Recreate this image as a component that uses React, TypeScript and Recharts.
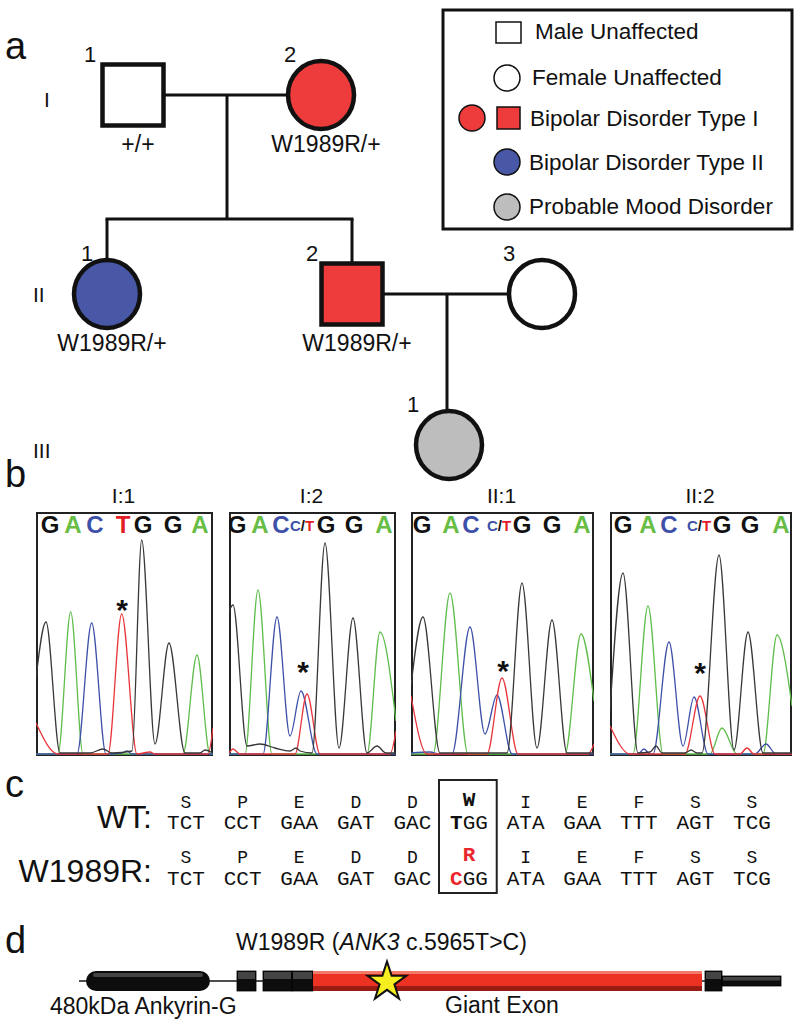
import React from 'react';
import {
  ComposedChart,
  Line,
  Scatter,
  XAxis,
  YAxis,
  ReferenceLine,
  ReferenceArea,
  Symbols,
} from 'recharts';

const SANS = '"Liberation Sans", Arial, Helvetica, sans-serif';
const MONO = '"Liberation Mono", "Courier New", Courier, monospace';

// ---------- a: pedigree ----------
const GENERATIONS = ['I', 'II', 'III'];
const PEOPLE = [
  { id: 'I:1', gen: 1, num: 1, pos: 133, sex: 'M', status: 'unaffected', genotype: '+/+' },
  { id: 'I:2', gen: 1, num: 2, pos: 321, sex: 'F', status: 'bp1', genotype: 'W1989R/+' },
  { id: 'II:1', gen: 2, num: 1, pos: 107, sex: 'F', status: 'bp2', genotype: 'W1989R/+' },
  { id: 'II:2', gen: 2, num: 2, pos: 352, sex: 'M', status: 'bp1', genotype: 'W1989R/+' },
  { id: 'II:3', gen: 2, num: 3, pos: 542, sex: 'F', status: 'unaffected', genotype: '' },
  { id: 'III:1', gen: 3, num: 1, pos: 449, sex: 'F', status: 'mood', genotype: '' },
];
const UNIONS = [
  { partners: ['I:1', 'I:2'], children: ['II:1', 'II:2'] },
  { partners: ['II:2', 'II:3'], children: ['III:1'] },
];
const LEGEND_ITEMS = [
  'Male Unaffected',
  'Female Unaffected',
  'Bipolar Disorder Type I',
  'Bipolar Disorder Type II',
  'Probable Mood Disorder',
];

// ---------- b: chromatograms ----------
const SAMPLES = ['I:1', 'I:2', 'II:1', 'II:2'];
const CALLS = [
  ['G', 'A', 'C', 'T', 'G', 'G', 'A'],
  ['G', 'A', 'C', 'C/T', 'G', 'G', 'A'],
  ['G', 'A', 'C', 'C/T', 'G', 'G', 'A'],
  ['G', 'A', 'C', 'C/T', 'G', 'G', 'A'],
];
const CALL_POS = [
  [14, 37, 59, 87, 107, 137, 164],
  [8, 31, 52, 73, 97, 125, 155],
  [11, 40, 60, 88, 111, 141, 171],
  [13, 38, 59, 89, 112, 140, 171],
];
// site of the variant (scan position, signal height)
const VARIANT_SITE = [
  [86, 153],
  [74, 91],
  [92, 92],
  [90, 90],
];
// traces: [scan position, signal]
const TRACE_G = [
  [[0, 78], [10, 134], [24, 3], [54, 3], [67, 7], [76, 3], [96, 5], [105.7, 216], [119, 12], [133, 113], [149, 3], [164, 3], [169, 6], [177, 3]],
  [[0, 145], [4, 151], [18, 10], [31, 12], [46, 8], [61, 5], [67, 8], [71, 5], [83, 3], [96, 213], [110, 8], [124, 138], [138, 3], [148, 10], [157, 3], [167, 3]],
  [[0, 70], [12, 139], [29, 3], [96, 3], [111, 173], [126, 8], [141, 136], [156, 3], [183, 3]],
  [[0, 45], [13, 183], [28, 3], [40, 4], [46, 10], [52, 3], [75, 3], [81, 6], [87, 3], [92, 3], [109, 201], [124, 6], [138, 124], [153, 3], [182, 3]],
];
const TRACE_A = [
  [[0, 2], [22, 2], [34.7, 144], [47, 2], [147, 2], [161, 101], [174, 2], [177, 2]],
  [[0, 2], [16, 2], [29, 166], [43, 2], [138, 2], [151, 124], [167, 35]],
  [[0, 2], [22, 2], [39, 163], [57, 2], [154, 2], [170, 122], [183, 55]],
  [[0, 2], [23, 2], [38, 150], [53, 2], [100, 2], [112, 28], [127, 2], [153, 2], [167, 121], [182, 50]],
];
const TRACE_C = [
  [[0, 2], [41, 2], [55.7, 133], [70, 2], [86, 3], [91, 5], [96, 2], [177, 2]],
  [[0, 2], [34, 2], [48, 139], [61, 20], [72, 65], [88, 2], [167, 2]],
  [[0, 3], [19, 4], [29, 2], [41, 2], [59, 129], [74, 22], [86, 61], [101, 2], [183, 2]],
  [[0, 2], [28, 2], [34, 7], [40, 2], [43, 2], [59, 114], [73, 10], [84, 59], [98, 2], [145, 2], [156, 12], [166, 2], [182, 2]],
];
const TRACE_T = [
  [[0, 33], [22, 2], [72, 2], [85.7, 142], [101, 2], [114, 4], [119, 2], [172, 2], [177, 28]],
  [[0, 3], [4, 7], [11, 2], [66, 2], [78, 62], [91, 2], [161, 2], [167, 25]],
  [[0, 60], [16, 2], [76, 2], [91, 78], [107, 2], [177, 2], [183, 12]],
  [[0, 30], [20, 2], [75, 2], [90, 60], [105, 2], [130, 2], [137, 8], [144, 2], [182, 2]],
];

// ---------- c: sequence ----------
const AA_WT = ['S', 'P', 'E', 'D', 'D', 'W', 'I', 'E', 'F', 'S', 'S'];
const CODON_WT = ['TCT', 'CCT', 'GAA', 'GAT', 'GAC', 'TGG', 'ATA', 'GAA', 'TTT', 'AGT', 'TCG'];
const AA_MUT = ['S', 'P', 'E', 'D', 'D', 'R', 'I', 'E', 'F', 'S', 'S'];
const CODON_MUT = ['TCT', 'CCT', 'GAA', 'GAT', 'GAC', 'CGG', 'ATA', 'GAA', 'TTT', 'AGT', 'TCG'];
const VARIANT_CODON = 5;

// ---------- d: gene ----------
const GENE_START = 79;
const GENE_PARTS = [
  { start: 86, end: 210, kind: 'domain' },
  { start: 237, end: 256, kind: 'exon' },
  { start: 263, end: 292, kind: 'exon' },
  { start: 292, end: 313, kind: 'exon' },
  { start: 313, end: 702, kind: 'giant' },
  { start: 705, end: 722, kind: 'exon' },
  { start: 722, end: 781, kind: 'utr' },
];
const VARIANT_POS = [387];

// ---------- layout / styles ----------
const STATUS_FILL: Record<string, string> = {
  unaffected: '#ffffff',
  bp1: '#ee3b3b',
  bp2: '#4858a6',
  mood: '#bdbdbd',
};
const GEN_Y: Record<number, number> = { 1: 95, 2: 294, 3: 445 };
const ROMAN = [
  { x: 44, y: 107 },
  { x: 33, y: 302 },
  { x: 33, y: 458 },
];
const NUM_DX: Record<string, number> = { 'I:1': -43, 'I:2': -31, 'II:1': -20, 'II:2': -40, 'II:3': -33, 'III:1': -36 };
const SQ = 30.5;
const RX = 33;
const RY = 34;

const BOX_LEFT = [36, 229, 411, 610];
const BOX_W = [177, 167, 183, 182];
const BOX_TOP = 512;
const BOX_H = 244;
const BOX_PAD = 26;
const CALL_H = 223;
const TRACE_COLOR: Record<string, string> = { G: '#383838', A: '#5fbd4c', C: '#3e50a8', T: '#e8353b' };
const CALL_COLOR: Record<string, string> = { G: '#111111', A: '#68bd45', C: '#3d4fa7', T: '#e31d24' };

const SEQ_TOP = 770;
const SEQ_H = 130;
const CODON_X0 = 186;
const CODON_DX = 56.6;
const ROW_Y = { wtAa: 38, wtCodon: 59, mutAa: 93, mutCodon: 115 };

const GENE_TOP = 950;
const GENE_H = 70;
const GENE_Y = 31;

const byId = (id: string) => PEOPLE.find((p) => p.id === id)!;
const extent = (p: any) => (p.sex === 'M' ? SQ : RX);
const topOf = (p: any) => GEN_Y[p.gen] - (p.sex === 'M' ? SQ : RY);

function PersonShape(props: any) {
  const { cx, cy, payload: p } = props;
  const fill = STATUS_FILL[p.status];
  return (
    <g>
      {p.sex === 'M' ? (
        <rect x={cx - SQ} y={cy - SQ} width={SQ * 2} height={SQ * 2} fill={fill} stroke="#111" strokeWidth={4.5} />
      ) : (
        <ellipse cx={cx} cy={cy} rx={RX} ry={RY} fill={fill} stroke="#111" strokeWidth={4.5} />
      )}
      <text x={cx + NUM_DX[p.id]} y={cy - 33} textAnchor="middle" fontSize={22} fontFamily={SANS} fill="#111">
        {p.num}
      </text>
      {p.genotype && (
        <text x={cx + 5} y={cy + 57} textAnchor="middle" fontSize={23} fontFamily={SANS} fill="#111">
          {p.genotype}
        </text>
      )}
    </g>
  );
}

function Pedigree() {
  const lines: any[] = [];
  UNIONS.forEach((u) => {
    const a = byId(u.partners[0]);
    const b = byId(u.partners[1]);
    const y = GEN_Y[a.gen];
    const mx = (a.pos + b.pos) / 2;
    lines.push([{ x: a.pos + extent(a), y }, { x: b.pos - extent(b), y }]);
    const kids = u.children.map(byId);
    if (kids.length > 1) {
      const sibY = GEN_Y[a.gen + 1] - 75;
      lines.push([{ x: mx, y }, { x: mx, y: sibY }]);
      const xs = kids.map((c) => c.pos);
      lines.push([{ x: Math.min(...xs) - 1.5, y: sibY }, { x: Math.max(...xs) + 1.5, y: sibY }]);
      kids.forEach((c) => lines.push([{ x: c.pos, y: sibY }, { x: c.pos, y: topOf(c) }]));
    } else {
      lines.push([{ x: mx, y }, { x: mx, y: topOf(kids[0]) }]);
    }
  });
  const points = PEOPLE.map((p) => ({ ...p, x: p.pos, y: GEN_Y[p.gen] }));
  return (
    <ComposedChart width={800} height={490} margin={{ top: 0, right: 0, bottom: 0, left: 0 }}>
      <XAxis type="number" dataKey="x" domain={[0, 800]} hide />
      <YAxis type="number" dataKey="y" domain={[0, 490]} reversed hide />
      {lines.map((seg, i) => (
        <ReferenceLine key={i} segment={seg} stroke="#111" strokeWidth={3} ifOverflow="visible" />
      ))}
      <Scatter data={points} shape={PersonShape} isAnimationActive={false} />
    </ComposedChart>
  );
}

function CallShape(props: any) {
  const { cx, cy, payload } = props;
  if (payload.base === 'C/T') {
    return (
      <text x={cx} y={cy - 2} textAnchor="middle" fontSize={15} fontWeight="bold" fontFamily={SANS}>
        <tspan fill={CALL_COLOR.C}>C</tspan>
        <tspan fill="#111">/</tspan>
        <tspan fill={CALL_COLOR.T}>T</tspan>
      </text>
    );
  }
  return (
    <text x={cx} y={cy} textAnchor="middle" fontSize={24} fontWeight="bold" fontFamily={SANS} fill={CALL_COLOR[payload.base]}>
      {payload.base}
    </text>
  );
}

function StarShape(props: any) {
  const { cx, cy } = props;
  return (
    <text x={cx} y={cy + 17} textAnchor="middle" fontSize={30} fontWeight="bold" fontFamily={SANS} fill="#111">
      *
    </text>
  );
}

const toPts = (arr: number[][]) => arr.map(([x, h]) => ({ x, h }));

function Chromatogram({ idx }: { idx: number }) {
  const w = BOX_W[idx];
  const traces: Record<string, any[]> = {
    G: toPts(TRACE_G[idx]),
    A: toPts(TRACE_A[idx]),
    C: toPts(TRACE_C[idx]),
    T: toPts(TRACE_T[idx]),
  };
  const calls = CALLS[idx].map((base, i) => ({ x: CALL_POS[idx][i], h: CALL_H, base }));
  const site = [{ x: VARIANT_SITE[idx][0], h: VARIANT_SITE[idx][1] }];
  return (
    <div style={{ position: 'absolute', left: BOX_LEFT[idx], top: BOX_TOP - BOX_PAD, width: w, height: BOX_H + BOX_PAD }}>
      <div
        style={{
          position: 'absolute',
          left: 0,
          top: BOX_PAD,
          width: w,
          height: BOX_H,
          boxSizing: 'border-box',
          border: '2px solid #222',
        }}
      />
      <div style={{ position: 'absolute', left: 0, top: 0 }}>
        <ComposedChart width={w} height={BOX_H + BOX_PAD} margin={{ top: BOX_PAD, right: 0, bottom: 0, left: 0 }}>
          <XAxis type="number" dataKey="x" domain={[0, w]} hide />
          <YAxis type="number" dataKey="h" domain={[0, BOX_H]} hide />
          {['A', 'C', 'T', 'G'].map((b) => (
            <Line
              key={b}
              data={traces[b]}
              dataKey="h"
              type="monotone"
              stroke={TRACE_COLOR[b]}
              strokeWidth={1.3}
              dot={false}
              isAnimationActive={false}
            />
          ))}
          <Scatter data={calls} shape={CallShape} isAnimationActive={false} />
          <Scatter data={site} shape={StarShape} isAnimationActive={false} />
        </ComposedChart>
      </div>
    </div>
  );
}

function AaShape(props: any) {
  const { cx, cy, payload } = props;
  if (payload.hl) {
    return (
      <text x={cx} y={cy - 2} textAnchor="middle" fontSize={21} fontWeight="bold" fontFamily={MONO} fill={payload.mut ? '#e8262c' : '#111'}>
        {payload.t}
      </text>
    );
  }
  return (
    <text x={cx} y={cy} textAnchor="middle" fontSize={18} fontFamily={MONO} fill="#111">
      {payload.t}
    </text>
  );
}

function CodonShape(props: any) {
  const { cx, cy, payload } = props;
  const t: string = payload.t;
  return (
    <text x={cx} y={cy} textAnchor="middle" fontSize={21} fontFamily={MONO} fill="#111">
      {payload.hl ? (
        <>
          <tspan fontWeight="bold" fill={payload.mut ? '#e8262c' : '#111'}>
            {t[0]}
          </tspan>
          <tspan>{t.slice(1)}</tspan>
        </>
      ) : (
        t
      )}
    </text>
  );
}

function SequencePanel() {
  const x0 = -CODON_X0 / CODON_DX;
  const x1 = x0 + 800 / CODON_DX;
  const rowPts = (list: string[], y: number, mut: boolean) =>
    list.map((t, i) => ({ i, y, t, mut, hl: i === VARIANT_CODON }));
  return (
    <ComposedChart width={800} height={SEQ_H} margin={{ top: 0, right: 0, bottom: 0, left: 0 }}>
      <XAxis type="number" dataKey="i" domain={[x0, x1]} hide />
      <YAxis type="number" dataKey="y" domain={[0, SEQ_H]} reversed hide />
      <ReferenceArea
        x1={VARIANT_CODON - 0.53}
        x2={VARIANT_CODON + 0.49}
        y1={10}
        y2={123}
        fill="none"
        fillOpacity={0}
        stroke="#222"
        strokeWidth={2}
        ifOverflow="visible"
      />
      <Scatter data={rowPts(AA_WT, ROW_Y.wtAa, false)} shape={AaShape} isAnimationActive={false} />
      <Scatter data={rowPts(CODON_WT, ROW_Y.wtCodon, false)} shape={CodonShape} isAnimationActive={false} />
      <Scatter data={rowPts(AA_MUT, ROW_Y.mutAa, true)} shape={AaShape} isAnimationActive={false} />
      <Scatter data={rowPts(CODON_MUT, ROW_Y.mutCodon, true)} shape={CodonShape} isAnimationActive={false} />
    </ComposedChart>
  );
}

function PartShape(kind: string) {
  return (props: any) => {
    const x = Math.min(props.x, props.x + props.width);
    const y = Math.min(props.y, props.y + props.height);
    const width = Math.abs(props.width);
    const height = Math.abs(props.height);
    if (kind === 'domain') {
      return (
        <g>
          <rect x={x} y={y} width={width} height={height} rx={height / 2} fill="#0d0d0d" />
          <rect x={x + 7} y={y + 2} width={width - 14} height={4} rx={2} fill="#454545" />
        </g>
      );
    }
    if (kind === 'giant') {
      return (
        <g>
          <rect x={x} y={y} width={width} height={height} fill="#ec3323" />
          <rect x={x} y={y} width={width} height={3} fill="#f37a68" />
          <rect x={x} y={y + height - 5} width={width} height={5} fill="#9a1a14" />
        </g>
      );
    }
    return (
      <g>
        <rect x={x} y={y} width={width} height={height} fill="#0d0d0d" stroke="#000" strokeWidth={0.8} />
        <rect x={x + 1} y={y + 1} width={width - 2} height={height * 0.35} fill="#444" />
      </g>
    );
  };
}

function VariantShape(props: any) {
  const { cx, cy } = props;
  return <Symbols cx={cx} cy={cy + 1} type="star" size={470} fill="#f6ee1e" stroke="#111" strokeWidth={2} />;
}

function GenePanel() {
  const half: Record<string, number> = { domain: 10, exon: 10, giant: 10, utr: 5 };
  // intron line only in the gaps between parts
  const gaps: number[][] = [];
  let prev = GENE_START;
  GENE_PARTS.forEach((p) => {
    if (p.start > prev) gaps.push([prev, p.start]);
    prev = Math.max(prev, p.end);
  });
  return (
    <ComposedChart width={800} height={GENE_H} margin={{ top: 0, right: 0, bottom: 0, left: 0 }}>
      <XAxis type="number" dataKey="pos" domain={[0, 800]} hide />
      <YAxis type="number" dataKey="y" domain={[0, GENE_H]} reversed hide />
      {gaps.map(([s, e], i) => (
        <ReferenceLine
          key={`g${i}`}
          segment={[
            { x: s, y: GENE_Y },
            { x: e, y: GENE_Y },
          ]}
          stroke="#222"
          strokeWidth={1.6}
        />
      ))}
      {GENE_PARTS.map((p, i) => (
        <ReferenceArea
          key={i}
          x1={p.start}
          x2={p.end}
          y1={GENE_Y - half[p.kind]}
          y2={GENE_Y + half[p.kind]}
          shape={PartShape(p.kind)}
          ifOverflow="visible"
        />
      ))}
      <Scatter data={VARIANT_POS.map((pos) => ({ pos, y: GENE_Y }))} shape={VariantShape} isAnimationActive={false} />
    </ComposedChart>
  );
}

function Overlay() {
  const t = { fontFamily: SANS, fill: '#111' } as const;
  const lx = 507;
  const legendY = [32, 78, 118, 162, 207];
  const legendTextX = [535, 532, 530, 529, 529];
  const legendBase = [39, 85, 126, 170, 214];
  return (
    <svg width={800} height={1023} style={{ position: 'absolute', left: 0, top: 0, pointerEvents: 'none' }}>
      {/* panel letters */}
      <text x={5} y={59} fontSize={38} {...t}>a</text>
      <text x={5} y={487} fontSize={38} {...t}>b</text>
      <text x={5} y={797} fontSize={38} {...t}>c</text>
      <text x={5} y={953} fontSize={38} {...t}>d</text>

      {/* generations */}
      {GENERATIONS.map((g, i) => (
        <text key={g} x={ROMAN[i].x} y={ROMAN[i].y} fontSize={21} {...t}>
          {g}
        </text>
      ))}

      {/* legend */}
      <rect x={443} y={10} width={349} height={219} fill="none" stroke="#111" strokeWidth={3} />
      <rect x={496} y={22} width={25} height={21} fill="#fff" stroke="#111" strokeWidth={1.5} />
      <circle cx={lx} cy={legendY[1]} r={13} fill="#fff" stroke="#111" strokeWidth={1.5} />
      <circle cx={472} cy={legendY[2]} r={13} fill={STATUS_FILL.bp1} stroke="#111" strokeWidth={1.5} />
      <rect x={497} y={107} width={23} height={22} fill={STATUS_FILL.bp1} stroke="#111" strokeWidth={1.5} />
      <circle cx={lx} cy={legendY[3]} r={13} fill={STATUS_FILL.bp2} stroke="#111" strokeWidth={1.5} />
      <circle cx={lx} cy={legendY[4]} r={13} fill={STATUS_FILL.mood} stroke="#111" strokeWidth={1.5} />
      {LEGEND_ITEMS.map((label, i) => (
        <text key={label} x={legendTextX[i]} y={legendBase[i]} fontSize={22.5} {...t}>
          {label}
        </text>
      ))}

      {/* chromatogram titles */}
      {SAMPLES.map((s, i) => (
        <text key={s} x={BOX_LEFT[i] + BOX_W[i] / 2 - 1} y={503} fontSize={21} textAnchor="middle" {...t}>
          {s}
        </text>
      ))}

      {/* sequence row labels */}
      <text x={152} y={828} fontSize={32} textAnchor="end" {...t}>WT:</text>
      <text x={152} y={882} fontSize={32} textAnchor="end" {...t}>W1989R:</text>

      {/* gene labels */}
      <text x={236} y={950} fontSize={23} {...t}>
        W1989R (<tspan fontStyle="italic">ANK3</tspan> c.5965T&gt;C)
      </text>
      <text x={50} y={1014} fontSize={23} {...t}>480kDa Ankyrin-G</text>
      <text x={445} y={1013} fontSize={23} {...t}>Giant Exon</text>
    </svg>
  );
}

export default function App() {
  return (
    <div style={{ position: 'absolute', left: 0, top: 0, width: 800, height: 1023, background: '#fff', overflow: 'hidden' }}>
      <div style={{ position: 'absolute', left: 0, top: 0 }}>
        <Pedigree />
      </div>
      {SAMPLES.map((s, i) => (
        <Chromatogram key={s} idx={i} />
      ))}
      <div style={{ position: 'absolute', left: 0, top: SEQ_TOP }}>
        <SequencePanel />
      </div>
      <div style={{ position: 'absolute', left: 0, top: GENE_TOP }}>
        <GenePanel />
      </div>
      <Overlay />
    </div>
  );
}
